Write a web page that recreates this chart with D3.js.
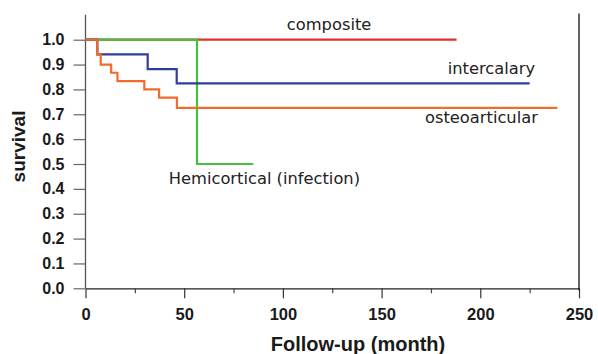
<!DOCTYPE html>
<html>
<head>
<meta charset="utf-8">
<script src="https://cdn.jsdelivr.net/npm/d3@7"></script>
<style>
  body { margin: 0; background: #fff; }
  svg { display: block; }
  .tick text { font-family: "Liberation Sans", Arial, sans-serif; font-weight: bold; fill: #1a1a1a; }
  .curve { fill: none; stroke-width: 2.2; }
  .lbl { font-family: "DejaVu Sans", sans-serif; font-size: 16.3px; fill: #222; }
  .title { font-family: "Liberation Sans", Arial, sans-serif; font-weight: bold; fill: #1a1a1a; }
</style>
</head>
<body>
<svg width="598" height="354"></svg>
<script>
// survival curves (time in months, survival fraction)
var compositeT = [0, 188],
    compositeS = [1, 1];
var hemiT = [0, 56.5, 85],
    hemiS = [1, 0.5, 0.5];
var intercalaryT = [0, 6, 31.5, 46.2, 225],
    intercalaryS = [1, 0.941, 0.882, 0.824, 0.824];
var osteoT = [0, 6, 7.7, 13, 16.2, 29.8, 37.3, 46.3, 239],
    osteoS = [1, 0.94, 0.9, 0.867, 0.833, 0.8, 0.767, 0.726, 0.726];

var xTicks = [0, 50, 100, 150, 200, 250],
    xMinor = [25, 75, 125, 175, 225],
    yTicks = [0, 0.1, 0.2, 0.3, 0.4, 0.5, 0.6, 0.7, 0.8, 0.9, 1.0];

var series = [
    {name: "composite", t: compositeT, s: compositeS, color: "#e2302a", lx: 102, ly: 1.04},
    {name: "Hemicortical (infection)", t: hemiT, s: hemiS, color: "#46c043", lx: 42.2, ly: 0.418},
    {name: "intercalary", t: intercalaryT, s: intercalaryS, color: "#2f3e9c", lx: 183.5, ly: 0.862},
    {name: "osteoarticular", t: osteoT, s: osteoS, color: "#f06b2c", lx: 172, ly: 0.664}
];

var svg = d3.select("svg");

var x = d3.scaleLinear().domain([0, 250]).range([85.5, 579]);
var y = d3.scaleLinear().domain([0, 1]).range([288.3, 39.7]);

// bottom axis
var gx = svg.append("g").attr("transform", "translate(0," + y(0) + ")");
gx.call(d3.axisBottom(x).tickValues(xTicks).tickSize(10).tickSizeOuter(0).tickPadding(10));
gx.select(".domain").attr("stroke", "#222").attr("stroke-width", 1.2);
gx.selectAll(".tick line").attr("stroke", "#333").attr("stroke-width", 1.2);
gx.selectAll(".tick text").style("font-size", "16.5px");

svg.append("g").attr("transform", "translate(0," + y(0) + ")")
    .call(d3.axisBottom(x).tickValues(xMinor).tickSize(5).tickFormat(""))
    .call(function (g) {
        g.select(".domain").remove();
        g.selectAll(".tick line").attr("stroke", "#444").attr("stroke-width", 1.2);
    });

// left axis
var gy = svg.append("g").attr("transform", "translate(" + x(0) + ",0)");
gy.call(d3.axisLeft(y).tickValues(yTicks).tickSize(12).tickSizeOuter(0).tickPadding(9).tickFormat(d3.format(".1f")));
gy.select(".domain").remove();
gy.selectAll(".tick line").attr("stroke", "#666").attr("stroke-width", 1.2);
gy.selectAll(".tick text").style("font-size", "16px");

svg.append("line")
    .attr("x1", x(0)).attr("x2", x(0))
    .attr("y1", y(0)).attr("y2", y(1.1))
    .attr("stroke", "#555").attr("stroke-width", 1.3);

// right border
svg.append("line")
    .attr("x1", x(250)).attr("x2", x(250))
    .attr("y1", y(0) + 2).attr("y2", y(1.105))
    .attr("stroke", "#111").attr("stroke-width", 1.3);

// curves
var line = d3.line()
    .x(function (d) { return x(d[0]); })
    .y(function (d) { return y(d[1]); })
    .curve(d3.curveStepAfter);

svg.append("g").selectAll("path")
    .data(series)
    .enter().append("path")
    .attr("class", "curve")
    .attr("stroke", function (d) { return d.color; })
    .attr("d", function (d) {
        return line(d.t.map(function (t, i) { return [t, d.s[i]]; }));
    });

// curve labels
svg.append("g").selectAll("text")
    .data(series)
    .enter().append("text")
    .attr("class", "lbl")
    .attr("x", function (d) { return x(d.lx); })
    .attr("y", function (d) { return y(d.ly); })
    .text(function (d) { return d.name; });

// axis titles
svg.append("text")
    .attr("class", "title")
    .attr("transform", "translate(25,146.5) rotate(-90)")
    .attr("text-anchor", "middle")
    .style("font-size", "19px")
    .text("survival");

svg.append("text")
    .attr("class", "title")
    .attr("x", 358)
    .attr("y", 351)
    .attr("text-anchor", "middle")
    .style("font-size", "20px")
    .text("Follow-up (month)");
</script>
</body>
</html>
